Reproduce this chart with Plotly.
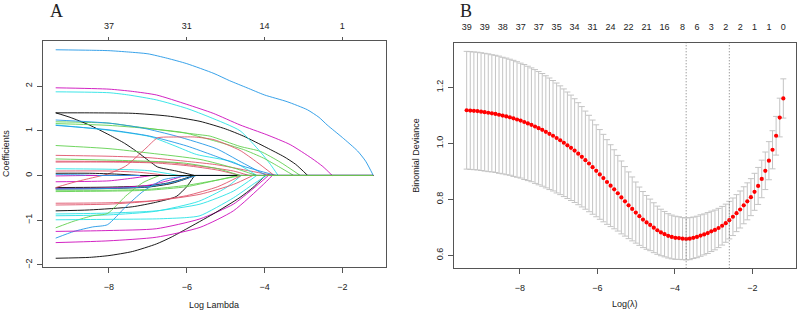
import plotly.graph_objects as go

# ---------------- data ----------------
palette = ["#000000", "#DF536B", "#61D04F", "#2297E6", "#28E2E5", "#CD0BBC"]

# Panel A: coefficient paths, (log lambda, coefficient) knots
path_01 = [(-9.37, 1.40), (-8.5, 1.40), (-7.4, 1.39), (-6.5, 1.33), (-5.66, 1.21), (-5.0, 1.04), (-4.54, 0.88), (-3.94, 0.62), (-3.5, 0.42), (-3.2, 0.25), (-2.89, 0.0), (-1.203, 0.0)]
path_02 = [(-9.37, 0.45), (-8.0, 0.43), (-7.0, 0.40), (-6.5, 0.36), (-5.23, 0.24), (-4.37, 0.10), (-3.77, 0.0), (-1.203, 0.0)]
path_03 = [(-9.37, 1.20), (-8.0, 1.17), (-7.4, 1.10), (-6.5, 1.00), (-5.66, 0.91), (-5.4, 0.88), (-4.63, 0.65), (-4.11, 0.54), (-3.6, 0.30), (-3.08, 0.0), (-1.203, 0.0)]
path_04 = [(-9.37, 2.81), (-8.5, 2.80), (-8.0, 2.79), (-7.5, 2.76), (-7.0, 2.72), (-6.5, 2.62), (-6.0, 2.50), (-5.3, 2.28), (-4.9, 2.12), (-4.45, 1.96), (-4.0, 1.80), (-3.42, 1.65), (-2.9, 1.47), (-2.6, 1.30), (-2.39, 1.13), (-2.0, 0.85), (-1.61, 0.55), (-1.4, 0.32), (-1.203, 0.0)]
path_05 = [(-9.37, 1.87), (-8.0, 1.85), (-7.5, 1.80), (-6.78, 1.69), (-6.0, 1.50), (-5.4, 1.30), (-4.63, 1.00), (-4.1, 0.52), (-3.85, 0.25), (-3.65, 0.0), (-1.203, 0.0)]
path_06 = [(-9.37, 1.96), (-8.0, 1.93), (-7.4, 1.88), (-6.78, 1.80), (-6.0, 1.59), (-5.32, 1.39), (-4.63, 1.13), (-3.94, 0.91), (-3.34, 0.69), (-2.78, 0.38), (-2.5, 0.20), (-2.26, 0.0), (-1.203, 0.0)]
path_07 = [(-9.37, 1.40), (-9.0, 1.30), (-8.51, 1.13), (-8.0, 0.91), (-7.6, 0.72), (-7.31, 0.55), (-6.96, 0.32), (-6.75, 0.19), (-6.27, 0.10), (-5.8, 0.0), (-1.203, 0.0)]
path_08 = [(-9.37, 0.32), (-7.4, 0.31), (-6.5, 0.29), (-5.66, 0.21), (-4.8, 0.10), (-4.4, 0.0), (-1.203, 0.0)]
path_09 = [(-9.37, 1.16), (-8.0, 1.12), (-7.0, 1.05), (-6.09, 0.96), (-5.23, 0.76), (-4.54, 0.58), (-4.03, 0.39), (-3.6, 0.18), (-3.25, 0.0), (-1.203, 0.0)]
path_10 = [(-9.37, 1.24), (-8.0, 1.17), (-7.13, 1.06), (-6.27, 0.88), (-5.24, 0.60), (-4.6, 0.30), (-3.95, 0.0), (-1.203, 0.0)]
path_11 = [(-9.37, 1.13), (-8.0, 1.01), (-6.95, 0.87), (-6.3, 0.66), (-5.75, 0.47), (-4.8, 0.30), (-4.2, 0.0), (-1.203, 0.0)]
path_12 = [(-9.37, -0.01), (-9.0, -0.005), (-8.6, 0.0), (-1.203, 0.0)]
path_13 = [(-9.37, -0.27), (-8.0, -0.26), (-7.0, -0.23), (-6.5, -0.17), (-6.1, -0.08), (-5.83, 0.0), (-1.203, 0.0)]
path_14 = [(-9.37, 0.30), (-8.0, 0.30), (-6.8, 0.28), (-6.0, 0.22), (-5.2, 0.12), (-4.63, 0.0), (-1.203, 0.0)]
path_15 = [(-9.37, 0.67), (-8.0, 0.60), (-6.95, 0.50), (-5.66, 0.36), (-4.8, 0.17), (-4.2, 0.0), (-1.203, 0.0)]
path_16 = [(-9.37, 1.12), (-8.0, 1.02), (-6.95, 0.88), (-6.0, 0.66), (-5.32, 0.45), (-4.6, 0.22), (-3.7, 0.0), (-1.203, 0.0)]
path_17 = [(-9.37, 0.15), (-8.0, 0.14), (-7.0, 0.11), (-6.2, 0.0), (-1.203, 0.0)]
path_18 = [(-9.37, -0.14), (-8.0, -0.12), (-7.4, -0.06), (-6.9, 0.0), (-1.203, 0.0)]
path_19 = [(-9.37, -0.30), (-8.0, -0.29), (-7.0, -0.26), (-6.4, -0.18), (-6.0, -0.07), (-5.8, 0.0), (-1.203, 0.0)]
path_20 = [(-9.37, 0.10), (-8.0, 0.10), (-7.2, 0.07), (-6.5, 0.0), (-1.203, 0.0)]
path_21 = [(-9.37, 0.37), (-7.4, 0.33), (-6.09, 0.28), (-5.2, 0.15), (-4.63, 0.0), (-1.203, 0.0)]
path_22 = [(-9.37, 0.02), (-8.8, 0.015), (-8.3, 0.0), (-1.203, 0.0)]
path_23 = [(-9.37, -0.86), (-8.0, -0.84), (-6.78, -0.79), (-5.66, -0.64), (-4.8, -0.35), (-4.2, 0.0), (-1.203, 0.0)]
path_24 = [(-9.37, -0.29), (-8.0, -0.28), (-7.0, -0.22), (-6.5, -0.12), (-6.05, 0.0), (-1.203, 0.0)]
path_25 = [(-9.37, -0.79), (-8.5, -0.77), (-7.4, -0.70), (-6.8, -0.60), (-6.27, -0.47), (-6.0, -0.25), (-5.8, 0.0), (-1.203, 0.0)]
path_26 = [(-9.37, -0.27), (-8.9, -0.15), (-8.42, -0.05), (-8.04, 0.03), (-7.57, 0.21), (-7.05, 0.61), (-6.75, 0.84), (-6.3, 0.86), (-5.8, 0.86), (-5.3, 0.80), (-4.63, 0.56), (-4.2, 0.30), (-3.75, 0.0), (-1.203, 0.0)]
path_27 = [(-9.37, -0.33), (-8.0, -0.33), (-7.0, -0.31), (-6.0, -0.22), (-5.2, -0.10), (-4.6, 0.0), (-1.203, 0.0)]
path_28 = [(-9.37, -1.40), (-8.9, -1.25), (-8.42, -1.15), (-8.04, -1.10), (-7.57, -0.70), (-7.13, -0.36), (-6.62, -0.10), (-6.2, -0.03), (-5.8, 0.0), (-1.203, 0.0)]
path_29 = [(-9.37, -0.90), (-8.0, -0.88), (-6.8, -0.80), (-5.7, -0.58), (-5.0, -0.28), (-4.6, 0.0), (-1.203, 0.0)]
path_30 = [(-9.37, -1.25), (-8.0, -1.23), (-6.78, -1.19), (-5.66, -0.97), (-4.8, -0.64), (-4.3, -0.30), (-3.9, 0.0), (-1.203, 0.0)]
path_31 = [(-9.37, -1.85), (-8.5, -1.83), (-8.0, -1.79), (-7.4, -1.70), (-6.78, -1.53), (-6.4, -1.38), (-6.0, -1.19), (-5.32, -0.86), (-4.63, -0.49), (-4.3, -0.27), (-3.98, 0.0), (-1.203, 0.0)]
path_32 = [(-9.37, -0.62), (-8.0, -0.61), (-6.78, -0.56), (-5.66, -0.42), (-4.8, -0.20), (-4.3, 0.0), (-1.203, 0.0)]
path_33 = [(-9.37, -1.17), (-8.9, -1.02), (-8.42, -0.90), (-8.04, -0.85), (-7.57, -0.46), (-7.13, -0.16), (-6.7, 0.0), (-1.203, 0.0)]
path_34 = [(-9.37, -0.30), (-8.0, -0.29), (-7.0, -0.25), (-6.3, -0.14), (-5.75, 0.0), (-1.203, 0.0)]
path_35 = [(-9.37, -0.99), (-8.0, -0.98), (-6.78, -0.97), (-6.0, -0.94), (-5.66, -0.90), (-4.8, -0.50), (-4.3, -0.20), (-3.95, 0.0), (-1.203, 0.0)]
path_36 = [(-9.37, -1.50), (-8.0, -1.46), (-6.78, -1.38), (-5.66, -1.16), (-4.8, -0.79), (-4.03, -0.20), (-3.8, 0.0), (-1.203, 0.0)]
path_37 = [(-9.37, 0.05), (-8.5, 0.05), (-7.8, 0.03), (-7.2, 0.0), (-1.203, 0.0)]
path_38 = [(-9.37, -0.66), (-8.0, -0.64), (-7.0, -0.58), (-6.0, -0.45), (-5.2, -0.25), (-4.6, 0.0), (-1.203, 0.0)]
path_39 = [(-9.37, -0.36), (-8.0, -0.35), (-7.0, -0.33), (-6.0, -0.25), (-5.3, -0.12), (-4.7, 0.0), (-1.203, 0.0)]

coef_paths = [path_01, path_02, path_03, path_04, path_05, path_06, path_07, path_08, path_09, path_10,
              path_11, path_12, path_13, path_14, path_15, path_16, path_17, path_18, path_19, path_20,
              path_21, path_22, path_23, path_24, path_25, path_26, path_27, path_28, path_29, path_30,
              path_31, path_32, path_33, path_34, path_35, path_36, path_37, path_38, path_39]

top_a_ticks = [-8, -6, -4, -2]
top_a_df = ["37", "31", "14", "1"]

# Panel B: cross-validation curve
log_lambda = [-9.370, -9.277, -9.184, -9.092, -8.999, -8.906, -8.813, -8.720, -8.628, -8.535,
              -8.442, -8.349, -8.256, -8.164, -8.071, -7.978, -7.885, -7.792, -7.700, -7.607,
              -7.514, -7.421, -7.328, -7.236, -7.143, -7.050, -6.957, -6.864, -6.772, -6.679,
              -6.586, -6.493, -6.400, -6.308, -6.215, -6.122, -6.029, -5.936, -5.844, -5.751,
              -5.658, -5.565, -5.472, -5.380, -5.287, -5.194, -5.101, -5.008, -4.916, -4.823,
              -4.730, -4.637, -4.544, -4.452, -4.359, -4.266, -4.173, -4.080, -3.988, -3.895,
              -3.802, -3.709, -3.616, -3.524, -3.431, -3.338, -3.245, -3.152, -3.060, -2.967,
              -2.874, -2.781, -2.688, -2.596, -2.503, -2.410, -2.317, -2.224, -2.132, -2.039,
              -1.946, -1.853, -1.760, -1.668, -1.575, -1.482, -1.389, -1.296, -1.203]
cv_mean = [1.118, 1.117, 1.116, 1.115, 1.113, 1.111, 1.109, 1.107, 1.105, 1.102,
           1.099, 1.096, 1.093, 1.089, 1.085, 1.081, 1.076, 1.071, 1.066, 1.060,
           1.054, 1.048, 1.041, 1.034, 1.027, 1.019, 1.011, 1.002, 0.993, 0.984,
           0.974, 0.963, 0.952, 0.940, 0.928, 0.915, 0.902, 0.889, 0.876, 0.862,
           0.849, 0.836, 0.822, 0.807, 0.793, 0.779, 0.766, 0.753, 0.740, 0.728,
           0.718, 0.709, 0.699, 0.690, 0.682, 0.676, 0.670, 0.666, 0.663, 0.662,
           0.660, 0.659, 0.660, 0.663, 0.666, 0.671, 0.675, 0.680, 0.686, 0.691,
           0.698, 0.706, 0.715, 0.726, 0.738, 0.751, 0.764, 0.779, 0.793, 0.808,
           0.827, 0.848, 0.873, 0.902, 0.938, 0.977, 1.027, 1.092, 1.160]
cv_se = [0.210, 0.210, 0.210, 0.210, 0.210, 0.210, 0.210, 0.209, 0.209, 0.209,
         0.208, 0.208, 0.207, 0.207, 0.206, 0.205, 0.205, 0.204, 0.203, 0.203,
         0.202, 0.201, 0.200, 0.199, 0.197, 0.196, 0.194, 0.192, 0.190, 0.188,
         0.185, 0.182, 0.179, 0.175, 0.172, 0.168, 0.164, 0.160, 0.156, 0.151,
         0.146, 0.141, 0.135, 0.130, 0.124, 0.119, 0.114, 0.109, 0.104, 0.100,
         0.096, 0.092, 0.089, 0.086, 0.083, 0.081, 0.079, 0.078, 0.077, 0.076,
         0.075, 0.075, 0.075, 0.074, 0.074, 0.074, 0.073, 0.073, 0.072, 0.071,
         0.070, 0.069, 0.068, 0.067, 0.067, 0.066, 0.066, 0.066, 0.066, 0.066,
         0.066, 0.066, 0.067, 0.067, 0.068, 0.068, 0.069, 0.069, 0.070]
nz_label_idx = [0, 5, 10, 15, 20, 25, 30, 35, 40, 45, 50, 55, 60, 64, 68, 72, 76, 80, 84, 88]
nz_label_text = ["39", "39", "38", "37", "37", "35", "34", "31", "24", "22",
                 "21", "16", "8", "6", "3", "2", "2", "1", "1", "0"]

# ---------------- derived ----------------
def padded(lo, hi, frac=0.04):
    d = (hi - lo) * frac
    return [lo - d, hi + d]

xa_all = [p[0] for path in coef_paths for p in path]
ya_all = [p[1] for path in coef_paths for p in path]
xa_range = padded(min(xa_all), max(xa_all))
ya_range = padded(min(ya_all), max(ya_all))

cv_up = [m + s for m, s in zip(cv_mean, cv_se)]
cv_lo = [m - s for m, s in zip(cv_mean, cv_se)]
xb_range = padded(min(log_lambda), max(log_lambda))
yb_range = padded(min(cv_lo), max(cv_up))

i_min = min(range(len(cv_mean)), key=lambda i: cv_mean[i])
thr = cv_mean[i_min] + cv_se[i_min]
i_1se = max(i for i in range(len(cv_mean)) if cv_mean[i] <= thr)

W, H = 798, 315
def px(x):
    return x / W
def py(y):
    return 1 - y / H

FONT = "Liberation Sans, Arial, sans-serif"
SERIF = "Liberation Serif, Times New Roman, serif"
AX = "#555555"
TXT = "#222222"

fig = go.Figure()

# active (non-zero) part of each path, smoothed; then the zero tails in draw order
tails = []
for k, path in enumerate(coef_paths):
    j = next(i for i, p in enumerate(path) if p[1] == 0.0)
    active = path[:j + 1]
    tails.append((k, path[j:]))
    fig.add_trace(go.Scatter(
        x=[p[0] for p in active], y=[p[1] for p in active], mode="lines",
        line=dict(color=palette[k % 6], width=0.9, shape="spline", smoothing=0.6),
        xaxis="x", yaxis="y", showlegend=False, hoverinfo="skip"))
for k, tail in tails:
    if len(tail) > 1:
        fig.add_trace(go.Scatter(
            x=[p[0] for p in tail], y=[p[1] for p in tail], mode="lines",
            line=dict(color=palette[k % 6], width=0.9), xaxis="x", yaxis="y",
            showlegend=False, hoverinfo="skip"))

fig.add_trace(go.Scatter(x=top_a_ticks, y=[0] * len(top_a_ticks), mode="markers",
                         marker=dict(opacity=0), xaxis="x2", yaxis="y",
                         showlegend=False, hoverinfo="skip"))

fig.add_trace(go.Scatter(
    x=log_lambda, y=cv_mean, mode="markers",
    marker=dict(color="red", size=4.2, line=dict(width=0)),
    error_y=dict(type="data", array=cv_se, symmetric=True, color="#C4C4C4", thickness=1, width=3),
    xaxis="x3", yaxis="y2", showlegend=False, hoverinfo="skip"))

fig.add_trace(go.Scatter(x=[log_lambda[i] for i in nz_label_idx], y=[cv_mean[i] for i in nz_label_idx],
                         mode="markers", marker=dict(opacity=0), xaxis="x4", yaxis="y2",
                         showlegend=False, hoverinfo="skip"))

a_dom_x = [px(43), px(386)]
a_dom_y = [py(268.3), py(41.7)]
b_dom_x = [px(454), px(796)]
b_dom_y = [py(270), py(43.3)]

common = dict(showgrid=False, zeroline=False, tickfont=dict(family=FONT, size=9, color=TXT))

def note(text, x, y, size=9, family=FONT, angle=0):
    return dict(text=text, x=x, y=y, xref="paper", yref="paper", showarrow=False,
                xanchor="center", yanchor="middle", textangle=angle,
                font=dict(family=family, size=size, color=TXT))

fig.update_layout(
    width=W, height=H, margin=dict(l=0, r=0, t=0, b=0),
    paper_bgcolor="white", plot_bgcolor="white",
    xaxis=dict(domain=a_dom_x, anchor="y", range=xa_range, tickvals=[-8, -6, -4, -2],
               ticks="outside", ticklen=5, tickcolor=AX, showline=True, linecolor=AX, linewidth=1,
               mirror=True, ticklabelstandoff=7, **common),
    xaxis2=dict(overlaying="x", side="top", anchor="y", range=xa_range, tickvals=top_a_ticks,
                ticktext=top_a_df, ticks="outside", ticklen=3, tickcolor=AX, showline=False,
                ticklabelstandoff=5, **common),
    yaxis=dict(domain=a_dom_y, anchor="x", range=ya_range, tickvals=[-2, -1, 0, 1, 2], tickangle=-90,
               ticks="outside", ticklen=5, tickcolor=AX, showline=True, linecolor=AX, linewidth=1,
               mirror=True, ticklabelstandoff=1, **common),
    xaxis3=dict(domain=b_dom_x, anchor="y2", range=xb_range, tickvals=[-8, -6, -4, -2],
                ticks="outside", ticklen=5, tickcolor=AX, showline=True, linecolor=AX, linewidth=1,
                mirror=True, ticklabelstandoff=6, **common),
    xaxis4=dict(overlaying="x3", side="top", anchor="y2", range=xb_range,
                tickvals=[log_lambda[i] for i in nz_label_idx], ticktext=nz_label_text,
                ticks="", showline=False, ticklabelstandoff=10, **common),
    yaxis2=dict(domain=b_dom_y, anchor="x3", range=yb_range, tickvals=[0.6, 0.8, 1.0, 1.2],
                tickformat=".1f", tickangle=-90, ticks="outside", ticklen=5, tickcolor=AX,
                showline=True, linecolor=AX, linewidth=1, mirror=True, ticklabelstandoff=1, **common),
    shapes=[
        dict(type="line", xref="x3", yref="y2 domain", x0=log_lambda[i_min], x1=log_lambda[i_min],
             y0=0, y1=1, line=dict(color="#777777", width=1, dash="1px,2px")),
        dict(type="line", xref="x3", yref="y2 domain", x0=log_lambda[i_1se], x1=log_lambda[i_1se],
             y0=0, y1=1, line=dict(color="#777777", width=1, dash="1px,2px")),
    ],
    annotations=[
        note("A", px(56), py(11), size=18, family=SERIF),
        note("B", px(466), py(11), size=18, family=SERIF),
        note("Log Lambda", (a_dom_x[0] + a_dom_x[1]) / 2, py(307)),
        note("Coefficients", px(6), (a_dom_y[0] + a_dom_y[1]) / 2, angle=-90),
        note("Log(λ)", (b_dom_x[0] + b_dom_x[1]) / 2, py(306)),
        note("Binomial Deviance", px(416), (b_dom_y[0] + b_dom_y[1]) / 2, angle=-90),
    ],
)

fig.write_html("out.html", config={"displayModeBar": False})
